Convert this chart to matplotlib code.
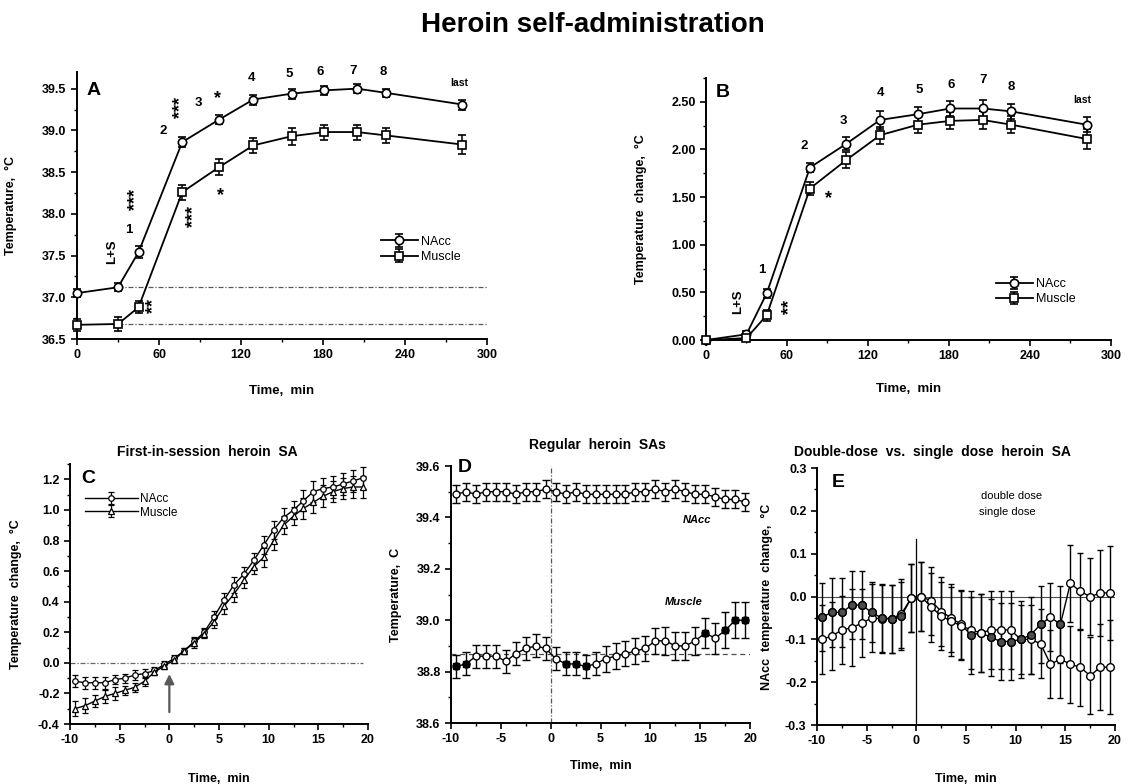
import numpy as np
import matplotlib.pyplot as plt
from matplotlib.ticker import MultipleLocator

plt.rcParams['font.family'] = ['Liberation Sans', 'DejaVu Sans']
plt.rcParams['font.weight'] = 'bold'
plt.rcParams['axes.labelweight'] = 'bold'
plt.rcParams['axes.linewidth'] = 1.4
plt.rcParams['axes.unicode_minus'] = False

# ---- session data (panels A and B) ----
sa_time = [0, 30, 45, 77, 104, 129, 157, 181, 205, 226, 282]
sa_labels = ["L+S", "1", "2", "3", "4", "5", "6", "7", "8", "last"]

nacc_temp = [37.05, 37.12, 37.54, 38.86, 39.13, 39.37, 39.44, 39.48, 39.50, 39.45, 39.31]
nacc_temp_err = [0.05, 0.05, 0.07, 0.06, 0.05, 0.06, 0.06, 0.05, 0.05, 0.05, 0.06]
muscle_temp = [36.67, 36.68, 36.88, 38.26, 38.56, 38.82, 38.93, 38.98, 38.98, 38.94, 38.83]
muscle_temp_err = [0.07, 0.08, 0.07, 0.09, 0.10, 0.09, 0.10, 0.09, 0.09, 0.09, 0.11]

nacc_change = [0.00, 0.06, 0.49, 1.81, 2.06, 2.31, 2.37, 2.43, 2.43, 2.40, 2.26]
nacc_change_err = [0.02, 0.03, 0.05, 0.05, 0.07, 0.09, 0.08, 0.08, 0.09, 0.08, 0.08]
muscle_change = [0.00, 0.02, 0.26, 1.59, 1.89, 2.15, 2.26, 2.30, 2.31, 2.26, 2.11]
muscle_change_err = [0.02, 0.03, 0.06, 0.07, 0.08, 0.09, 0.09, 0.09, 0.09, 0.09, 0.11]

# ---- 1-min bins around a self-administration (panels C, D, E) ----
bin_time = [-9.5, -8.5, -7.5, -6.5, -5.5, -4.5, -3.5, -2.5, -1.5, -0.5,
            0.5, 1.5, 2.5, 3.5, 4.5, 5.5, 6.5, 7.5, 8.5, 9.5,
            10.5, 11.5, 12.5, 13.5, 14.5, 15.5, 16.5, 17.5, 18.5, 19.5]

first_nacc = [-0.12, -0.13, -0.13, -0.13, -0.11, -0.10, -0.08, -0.07, -0.05, -0.01,
              0.03, 0.08, 0.14, 0.20, 0.30, 0.41, 0.51, 0.58, 0.67, 0.77,
              0.87, 0.95, 1.00, 1.06, 1.12, 1.14, 1.15, 1.17, 1.19, 1.21]
first_nacc_err = [0.04, 0.04, 0.04, 0.04, 0.03, 0.03, 0.03, 0.03, 0.02, 0.02,
                  0.02, 0.02, 0.03, 0.03, 0.04, 0.05, 0.05, 0.05, 0.05, 0.06,
                  0.06, 0.06, 0.06, 0.07, 0.07, 0.07, 0.07, 0.07, 0.07, 0.07]
first_muscle = [-0.30, -0.28, -0.25, -0.22, -0.20, -0.18, -0.16, -0.12, -0.06, -0.02,
                0.02, 0.08, 0.13, 0.19, 0.27, 0.37, 0.45, 0.54, 0.63, 0.69,
                0.80, 0.90, 0.96, 1.01, 1.05, 1.09, 1.12, 1.14, 1.15, 1.15]
first_muscle_err = [0.05, 0.05, 0.04, 0.04, 0.04, 0.03, 0.03, 0.03, 0.02, 0.02,
                    0.02, 0.02, 0.03, 0.03, 0.04, 0.05, 0.05, 0.05, 0.05, 0.06,
                    0.06, 0.06, 0.06, 0.07, 0.07, 0.07, 0.07, 0.07, 0.07, 0.07]

reg_nacc = [39.49, 39.50, 39.49, 39.50, 39.50, 39.50, 39.49, 39.50, 39.50, 39.51,
            39.50, 39.49, 39.50, 39.49, 39.49, 39.49, 39.49, 39.49, 39.50, 39.50,
            39.51, 39.50, 39.51, 39.50, 39.49, 39.49, 39.48, 39.47, 39.47, 39.46]
reg_nacc_err = [0.035] * 30
reg_muscle = [38.82, 38.83, 38.86, 38.86, 38.86, 38.84, 38.87, 38.89, 38.90, 38.89,
              38.85, 38.83, 38.83, 38.82, 38.83, 38.85, 38.86, 38.87, 38.88, 38.89,
              38.92, 38.92, 38.90, 38.90, 38.92, 38.95, 38.93, 38.96, 39.00, 39.00]
reg_muscle_err = [0.045, 0.045, 0.045, 0.045, 0.045, 0.045, 0.045, 0.045, 0.045, 0.045,
                  0.045, 0.045, 0.045, 0.045, 0.045, 0.05, 0.05, 0.05, 0.05, 0.05,
                  0.05, 0.055, 0.055, 0.055, 0.055, 0.06, 0.06, 0.07, 0.07, 0.07]
reg_muscle_filled = [True, True, False, False, False, False, False, False, False, False,
                     False, True, True, True, False, False, False, False, False, False,
                     False, False, False, False, False, True, False, True, True, True]
reg_muscle_base = 38.87

dose_a = [-0.048, -0.037, -0.037, -0.02, -0.02, -0.037, -0.05, -0.052, -0.045, -0.003,
          0.0, -0.01, -0.035, -0.05, -0.065, -0.09, -0.085, -0.095, -0.105, -0.105,
          -0.10, -0.09, -0.065, -0.048, -0.065, 0.031, 0.012, 0.0, 0.008, 0.009]
dose_a_err = [0.08, 0.08, 0.08, 0.08, 0.08, 0.07, 0.08, 0.08, 0.08, 0.08,
              0.08, 0.08, 0.08, 0.08, 0.08, 0.09, 0.09, 0.09, 0.09, 0.09,
              0.09, 0.09, 0.09, 0.08, 0.09, 0.09, 0.09, 0.09, 0.10, 0.11]
dose_a_filled = [True, True, True, True, True, True, True, True, True, False,
                 False, False, False, False, False, True, False, True, True, True,
                 True, True, True, False, True, False, False, False, False, False]
dose_b = [-0.10, -0.092, -0.078, -0.073, -0.062, -0.05, -0.052, -0.052, -0.04, -0.003,
          0.0, -0.025, -0.045, -0.058, -0.068, -0.078, -0.085, -0.078, -0.078, -0.078,
          -0.10, -0.10, -0.11, -0.158, -0.146, -0.158, -0.165, -0.185, -0.165, -0.165]
dose_b_err = [0.08, 0.08, 0.08, 0.09, 0.08, 0.08, 0.08, 0.08, 0.08, 0.08,
              0.08, 0.08, 0.08, 0.08, 0.08, 0.09, 0.09, 0.09, 0.09, 0.09,
              0.08, 0.08, 0.08, 0.08, 0.09, 0.09, 0.09, 0.09, 0.10, 0.11]

fig = plt.figure(figsize=(11.31, 7.84), dpi=100)
fig.text(0.524, 0.968, "Heroin self-administration", ha="center", va="center",
         fontsize=20, fontweight="bold")

axA = fig.add_axes([0.0681, 0.5676, 0.3625, 0.3406])
axB = fig.add_axes([0.6242, 0.5663, 0.3581, 0.3342])
axC = fig.add_axes([0.0619, 0.0765, 0.2635, 0.3316])
axD = fig.add_axes([0.3988, 0.0778, 0.2644, 0.3278])
axE = fig.add_axes([0.7224, 0.0752, 0.2635, 0.3278])

tick_fs = 9
for ax in (axA, axB, axC, axD, axE):
    ax.spines["top"].set_visible(False)
    ax.spines["right"].set_visible(False)
    ax.tick_params(which="major", direction="out", length=4, width=1.2, labelsize=tick_fs)
    ax.tick_params(which="minor", direction="out", length=2.5, width=1.0)

ebkw = dict(color="black", lw=1.3, elinewidth=1.1, capsize=3, capthick=1.1,
            markerfacecolor="white", markeredgecolor="black", markeredgewidth=1.2,
            clip_on=False, zorder=3)
star_fs = 13

# ---- A: absolute temperatures over the session ----
axA.errorbar(sa_time, nacc_temp, yerr=nacc_temp_err, marker="o", markersize=6,
             label="NAcc", **ebkw)
axA.errorbar(sa_time, muscle_temp, yerr=muscle_temp_err, marker="s", markersize=6,
             label="Muscle", **ebkw)
dashdot = (0, (4, 1.5, 1, 1.5))
axA.plot([sa_time[1], 300], [nacc_temp[1]] * 2, color="0.35", lw=0.9, linestyle=dashdot)
axA.plot([sa_time[1], 300], [muscle_temp[1]] * 2, color="0.35", lw=0.9, linestyle=dashdot)
axA.set_xlim(0, 300)
axA.set_ylim(36.5, 39.7)
axA.set_xticks([0, 60, 120, 180, 240, 300])
axA.set_yticks([36.5, 37.0, 37.5, 38.0, 38.5, 39.0, 39.5])
axA.xaxis.set_minor_locator(MultipleLocator(30))
axA.yaxis.set_minor_locator(MultipleLocator(0.25))
axA.set_xlabel("Time,  min", fontsize=9.5)
axA.set_ylabel("Temperature,  °C", fontsize=9)
axA.xaxis.set_label_coords(0.5, -0.172)
axA.yaxis.set_label_coords(-0.146, 0.5)
axA.text(0.04, 0.93, "A", transform=axA.transAxes, fontsize=14, fontweight="bold",
         ha="center", va="center")
lblA = [(26, 37.55), (38, 37.81), (63, 38.99), (89, 39.33), (128, 39.63),
        (155, 39.68), (178, 39.70), (202, 39.71), (224, 39.70), (280, 39.57)]
for txt, (x, y) in zip(sa_labels, lblA):
    axA.text(x, y, txt, ha="center", va="center", rotation=90 if txt == "L+S" else 0,
             fontsize=7.5 if txt == "last" else 9.5, fontweight="bold")
for txt, x, y, rot in [("***", 42.6, 38.17, 90), ("***", 76, 39.27, 90), ("*", 103, 39.38, 0),
                       ("***", 85.5, 37.97, 90), ("*", 105, 38.22, 0), ("**", 56, 36.9, 90)]:
    axA.text(x, y, txt, ha="center", va="center", rotation=rot, fontsize=star_fs,
             fontweight="bold")
legA = axA.legend(loc="upper left", bbox_to_anchor=(0.725, 0.41), frameon=False,
                  fontsize=9, handlelength=3.0, handletextpad=0.2, labelspacing=0.25,
                  borderpad=0)
for t in legA.get_texts():
    t.set_fontweight("normal")

# ---- B: change from baseline over the session ----
axB.errorbar(sa_time, nacc_change, yerr=nacc_change_err, marker="o", markersize=6,
             label="NAcc", **ebkw)
axB.errorbar(sa_time, muscle_change, yerr=muscle_change_err, marker="s", markersize=6,
             label="Muscle", **ebkw)
axB.set_xlim(0, 300)
axB.set_ylim(0, 2.75)
axB.set_xticks([0, 60, 120, 180, 240, 300])
axB.set_yticks([0, 0.5, 1.0, 1.5, 2.0, 2.5])
axB.set_yticklabels(["0.00", "0.50", "1.00", "1.50", "2.00", "2.50"])
axB.xaxis.set_minor_locator(MultipleLocator(30))
axB.yaxis.set_minor_locator(MultipleLocator(0.25))
axB.set_xlabel("Time,  min", fontsize=9.5)
axB.set_ylabel("Temperature  change,  °C", fontsize=9)
axB.xaxis.set_label_coords(0.5, -0.164)
axB.yaxis.set_label_coords(-0.146, 0.5)
axB.text(0.042, 0.946, "B", transform=axB.transAxes, fontsize=14, fontweight="bold",
         ha="center", va="center")
lblB = [(24, 0.40), (41, 0.74), (73, 2.04), (102, 2.30), (129, 2.59),
        (158, 2.62), (182, 2.68), (205, 2.73), (226, 2.66), (279, 2.52)]
for txt, (x, y) in zip(sa_labels, lblB):
    axB.text(x, y, txt, ha="center", va="center", rotation=90 if txt == "L+S" else 0,
             fontsize=7.5 if txt == "last" else 9.5, fontweight="bold")
axB.text(62, 0.35, "**", ha="center", va="center", rotation=90, fontsize=star_fs,
         fontweight="bold")
axB.text(91, 1.48, "*", ha="center", va="center", fontsize=star_fs, fontweight="bold")
legB = axB.legend(loc="upper left", bbox_to_anchor=(0.70, 0.26), frameon=False,
                  fontsize=9, handlelength=3.0, handletextpad=0.2, labelspacing=0.25,
                  borderpad=0)
for t in legB.get_texts():
    t.set_fontweight("normal")

# ---- C: first-in-session heroin SA ----
ebC = dict(ebkw, lw=1.0, elinewidth=0.9, capsize=2.2, markeredgewidth=0.9)
axC.errorbar(bin_time, first_nacc, yerr=first_nacc_err, marker="o", markersize=4,
             label="NAcc", **ebC)
axC.errorbar(bin_time, first_muscle, yerr=first_muscle_err, marker="^", markersize=4.5,
             label="Muscle", **ebC)
axC.plot([-10, 19.5], [0, 0], color="0.4", lw=0.9, linestyle=dashdot)
axC.annotate("", xy=(0, -0.055), xytext=(0, -0.34),
             arrowprops=dict(arrowstyle="-|>", color="0.35", lw=1.6, mutation_scale=14))
axC.set_xlim(-10, 20)
axC.set_ylim(-0.4, 1.3)
axC.set_xticks([-10, -5, 0, 5, 10, 15, 20])
axC.set_yticks([-0.4, -0.2, 0.0, 0.2, 0.4, 0.6, 0.8, 1.0, 1.2])
axC.xaxis.set_minor_locator(MultipleLocator(2.5))
axC.yaxis.set_minor_locator(MultipleLocator(0.1))
axC.set_xlabel("Time,  min", fontsize=9)
axC.set_ylabel("Temperature  change,  °C", fontsize=9)
axC.xaxis.set_label_coords(0.5, -0.188)
axC.yaxis.set_label_coords(-0.16, 0.5)
axC.text(0.46, 1.046, "First-in-session  heroin  SA", transform=axC.transAxes,
         ha="center", va="center", fontsize=10, fontweight="bold")
axC.text(0.06, 0.946, "C", transform=axC.transAxes, fontsize=14, fontweight="bold",
         ha="center", va="center")
legC = axC.legend(loc="upper left", bbox_to_anchor=(0.03, 0.91), frameon=False,
                  fontsize=8.5, handlelength=4.5, handletextpad=0.2, labelspacing=0.1,
                  borderpad=0)
for t in legC.get_texts():
    t.set_fontweight("normal")

# ---- D: regular heroin SAs ----
ebD = dict(ebkw, lw=1.0, elinewidth=1.0, capsize=2.6, markeredgewidth=1.0)
axD.errorbar(bin_time, reg_nacc, yerr=reg_nacc_err, marker="o", markersize=5, **ebD)
axD.errorbar(bin_time, reg_muscle, yerr=reg_muscle_err, marker="o", markersize=5, **ebD)
fill_t = [t for t, f in zip(bin_time, reg_muscle_filled) if f]
fill_v = [v for v, f in zip(reg_muscle, reg_muscle_filled) if f]
axD.plot(fill_t, fill_v, "s", color="black", markersize=5, zorder=4, clip_on=False)
axD.plot([-10, 20], [reg_muscle_base] * 2, color="0.3", lw=0.9, linestyle=(0, (4, 3)), zorder=1)
axD.plot([0, 0], [38.6, 39.6], color="0.35", lw=0.9, linestyle=dashdot, zorder=1)
axD.set_xlim(-10, 20)
axD.set_ylim(38.6, 39.6)
axD.set_xticks([-10, -5, 0, 5, 10, 15, 20])
axD.set_yticks([38.6, 38.8, 39.0, 39.2, 39.4, 39.6])
axD.xaxis.set_minor_locator(MultipleLocator(2.5))
axD.yaxis.set_minor_locator(MultipleLocator(0.1))
axD.set_xlabel("Time,  min", fontsize=9)
axD.set_ylabel("Temperature,  C", fontsize=9)
axD.xaxis.set_label_coords(0.5, -0.144)
axD.yaxis.set_label_coords(-0.164, 0.5)
axD.text(0.49, 1.08, "Regular  heroin  SAs", transform=axD.transAxes,
         ha="center", va="center", fontsize=10, fontweight="bold")
axD.text(0.047, 0.995, "D", transform=axD.transAxes, fontsize=14, fontweight="bold",
         ha="center", va="center")
axD.text(14.7, 39.39, "NAcc", ha="center", va="center", fontsize=8,
         fontweight="bold", fontstyle="italic")
axD.text(13.3, 39.07, "Muscle", ha="center", va="center", fontsize=8,
         fontweight="bold", fontstyle="italic")

# ---- E: double-dose vs. single dose ----
ebE = dict(ebkw, lw=1.0, elinewidth=1.0, capsize=2.4, markeredgewidth=1.0)
axE.axhline(0, color="0.3", lw=0.8, zorder=1)
axE.plot([0, 0], [-0.3, 0.135], color="black", lw=0.9, zorder=1)
axE.errorbar(bin_time, dose_a, yerr=dose_a_err, marker="o", markersize=5.5, **ebE)
axE.errorbar(bin_time, dose_b, yerr=dose_b_err, marker="o", markersize=5.5, **ebE)
fa_t = [t for t, f in zip(bin_time, dose_a_filled) if f]
fa_v = [v for v, f in zip(dose_a, dose_a_filled) if f]
axE.plot(fa_t, fa_v, "o", markerfacecolor="0.3", markeredgecolor="black",
         markersize=5.5, zorder=4, clip_on=False)
axE.set_xlim(-10, 20)
axE.set_ylim(-0.3, 0.3)
axE.set_xticks([-10, -5, 0, 5, 10, 15, 20])
axE.set_yticks([-0.3, -0.2, -0.1, 0.0, 0.1, 0.2, 0.3])
axE.xaxis.set_minor_locator(MultipleLocator(2.5))
axE.yaxis.set_minor_locator(MultipleLocator(0.05))
axE.set_xlabel("Time,  min", fontsize=9)
axE.set_ylabel("NAcc  temperature  change,  °C", fontsize=9)
axE.xaxis.set_label_coords(0.5, -0.185)
axE.yaxis.set_label_coords(-0.148, 0.5)
axE.text(0.386, 1.062, "Double-dose  vs.  single  dose  heroin  SA", transform=axE.transAxes,
         ha="center", va="center", fontsize=10, fontweight="bold")
axE.text(0.07, 0.945, "E", transform=axE.transAxes, fontsize=14, fontweight="bold",
         ha="center", va="center")
axE.text(9.6, 0.235, "double dose", ha="center", va="center", fontsize=8, fontweight="normal")
axE.text(9.2, 0.198, "single dose", ha="center", va="center", fontsize=8, fontweight="normal")

fig.savefig("out.png", dpi=100)
